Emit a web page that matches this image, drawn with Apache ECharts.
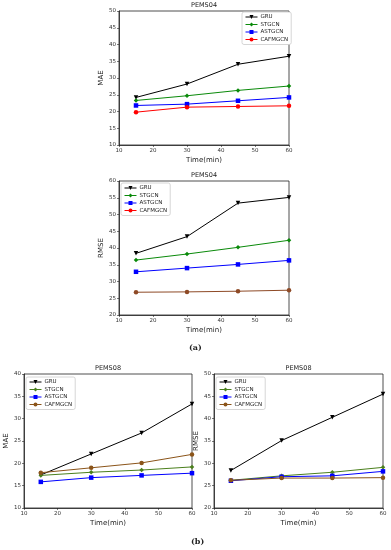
<!DOCTYPE html>
<html><head><meta charset="utf-8">
<script src="https://cdn.jsdelivr.net/npm/echarts@6/dist/echarts.min.js"></script>
<style>html,body{margin:0;padding:0;background:#fff}#c{width:391px;height:550px}</style>
</head><body><div id="c"></div>
<script>
var times = [15, 30, 45, 60];
var models = ['GRU', 'STGCN', 'ASTGCN', 'CAFMGCN'];
// PEMS04
var p04_mae_gru = [24.2, 28.2, 34.1, 36.5];
var p04_mae_stgcn = [23.3, 24.7, 26.3, 27.6];
var p04_mae_astgcn = [21.8, 22.2, 23.2, 24.2];
var p04_mae_cafmgcn = [19.8, 21.3, 21.5, 21.7];
var p04_rmse_gru = [38.4, 43.4, 53.4, 55.1];
var p04_rmse_stgcn = [36.4, 38.2, 40.2, 42.3];
var p04_rmse_astgcn = [32.9, 34.0, 35.1, 36.3];
var p04_rmse_cafmgcn = [26.8, 26.9, 27.1, 27.4];
// PEMS08
var p08_mae_gru = [17.4, 22.1, 26.8, 33.3];
var p08_mae_stgcn = [17.3, 18.0, 18.5, 19.2];
var p08_mae_astgcn = [15.85, 16.8, 17.3, 17.8];
var p08_mae_cafmgcn = [17.9, 19.0, 20.1, 22.0];
var p08_rmse_gru = [28.4, 35.1, 40.3, 45.5];
var p08_rmse_stgcn = [26.2, 27.2, 28.0, 29.1];
var p08_rmse_astgcn = [26.1, 27.0, 27.2, 28.2];
var p08_rmse_cafmgcn = [26.2, 26.7, 26.7, 26.8];
var titles = ['PEMS04', 'PEMS04', 'PEMS08', 'PEMS08'];
var yNames = ['MAE', 'RMSE', 'MAE', 'RMSE'];
var yMin = [10, 20, 10, 20], yMax = [50, 60, 40, 50], yInt = [5, 5, 5, 5];
var xMin = 10, xMax = 60, xInt = 10;

var grids = [
  {left: 119, top: 11, width: 170, height: 134},
  {left: 119, top: 181, width: 170, height: 134},
  {left: 24, top: 374, width: 168, height: 134},
  {left: 214, top: 374, width: 169, height: 134}
];
var allData = [
  [p04_mae_gru, p04_mae_stgcn, p04_mae_astgcn, p04_mae_cafmgcn],
  [p04_rmse_gru, p04_rmse_stgcn, p04_rmse_astgcn, p04_rmse_cafmgcn],
  [p08_mae_gru, p08_mae_stgcn, p08_mae_astgcn, p08_mae_cafmgcn],
  [p08_rmse_gru, p08_rmse_stgcn, p08_rmse_astgcn, p08_rmse_cafmgcn]
];
var lineColors = [
  ['#000000', '#0a8a0a', '#0000ff', '#ff0000'],
  ['#000000', '#0a8a0a', '#0000ff', '#8e4a26'],
  ['#000000', '#4a7f1c', '#0000ff', '#8b5419'],
  ['#000000', '#4a7f1c', '#0000ff', '#8b5419']
];
var legendColors = [
  ['#000000', '#0a8a0a', '#0000ff', '#ff0000'],
  ['#000000', '#0a8a0a', '#0000ff', '#ff0000'],
  ['#000000', '#4a7f1c', '#0000ff', '#8b5419'],
  ['#000000', '#4a7f1c', '#0000ff', '#8b5419']
];
var symbols = ['triangle', 'diamond', 'rect', 'circle'];
var symRot = [180, 0, 0, 0];
var legendPos = [
  {left: 242, top: 12},
  {left: 121, top: 183},
  {left: 26, top: 377},
  {left: 216, top: 377}
];

var font = 'DejaVu Sans';
var option = {
  backgroundColor: '#fff',
  animation: false,
  title: [], grid: [], xAxis: [], yAxis: [], series: [], legend: [],
  graphic: [
    {type: 'text', left: 189, top: 344, style: {text: '(a)', font: 'bold 8px "DejaVu Serif"', fill: '#222'}},
    {type: 'text', left: 191, top: 538, style: {text: '(b)', font: 'bold 8px "DejaVu Serif"', fill: '#222'}}
  ]
};
for (var i = 0; i < 4; i++) {
  var g = grids[i];
  option.grid.push({left: g.left, top: g.top, width: g.width, height: g.height, show: true, borderColor: '#222', borderWidth: 0.8, backgroundColor: '#fff'});
  option.title.push({text: titles[i], left: g.left + g.width / 2, top: g.top - 9, textAlign: 'center', padding: 0,
    textStyle: {fontSize: 6.5, fontWeight: 'normal', color: '#222', fontFamily: font}});
  option.xAxis.push({type: 'value', gridIndex: i, min: xMin, max: xMax, interval: xInt,
    name: 'Time(min)', nameLocation: 'middle', nameGap: 12,
    nameTextStyle: {fontSize: 7, color: '#222', fontFamily: font},
    axisLine: {show: true, lineStyle: {color: '#222', width: 0.8}},
    axisTick: {show: true, length: 2, lineStyle: {color: '#222', width: 0.6}},
    axisLabel: {fontSize: 5.5, color: '#333', margin: 3, fontFamily: font},
    splitLine: {show: false}});
  option.yAxis.push({type: 'value', gridIndex: i, min: yMin[i], max: yMax[i], interval: yInt[i],
    name: yNames[i], nameLocation: 'middle', nameGap: 10,
    nameTextStyle: {fontSize: 7, color: '#222', fontFamily: font},
    axisLine: {show: true, lineStyle: {color: '#222', width: 0.8}},
    axisTick: {show: true, length: 2, lineStyle: {color: '#222', width: 0.6}},
    axisLabel: {fontSize: 5.5, color: '#333', margin: 3, fontFamily: font},
    splitLine: {show: false}});
  var legData = [];
  for (var k = 0; k < 4; k++) {
    var nm = models[k] + '#' + i;
    var pts = times.map(function (t, j) { return [t, allData[i][k][j]]; });
    option.series.push({type: 'line', name: nm, xAxisIndex: i, yAxisIndex: i, data: pts,
      symbol: symbols[k], symbolRotate: symRot[k], symbolSize: 4.5,
      lineStyle: {color: lineColors[i][k], width: 1},
      itemStyle: {color: lineColors[i][k]}, z: 2 + k});
    legData.push({name: nm, itemStyle: {color: legendColors[i][k]}, lineStyle: {color: legendColors[i][k], width: 1}});
  }
  option.legend.push({data: legData, left: legendPos[i].left, top: legendPos[i].top, orient: 'vertical',
    itemWidth: 12, itemHeight: 5, itemGap: 1.5, padding: [2, 3, 2, 3],
    borderColor: '#ccc', borderWidth: 0.8, borderRadius: 2, backgroundColor: '#fff',
    formatter: function (n) { return n.split('#')[0]; },
    textStyle: {fontSize: 5.5, color: '#222', fontFamily: font, padding: [0, 0, 0, -2]}});
}
var chart = echarts.init(document.getElementById('c'), null, {renderer: 'canvas'});
chart.setOption(option);
</script></body></html>
